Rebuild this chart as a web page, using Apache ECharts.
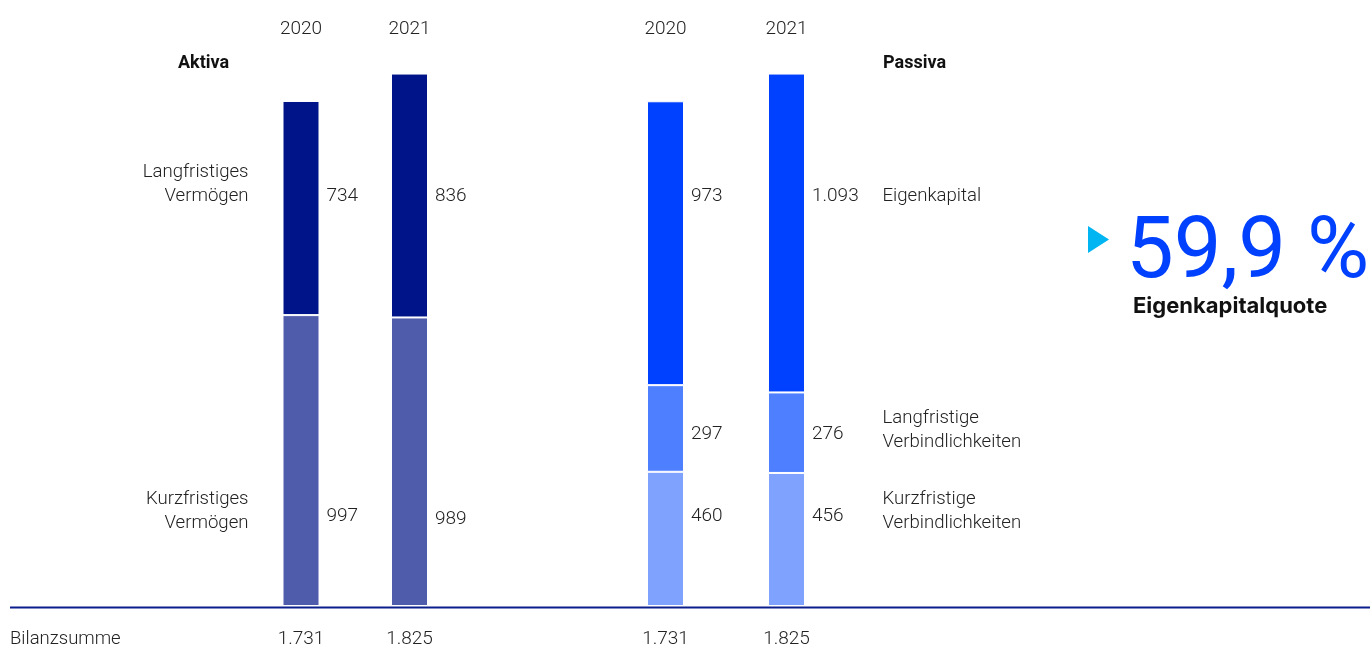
<!DOCTYPE html>
<html>
<head>
<meta charset="utf-8">
<script src="https://cdn.jsdelivr.net/npm/echarts@6/dist/echarts.min.js"></script>
<style>html,body{margin:0;padding:0;background:#fff;}#c{width:1370px;height:646px;}</style>
</head>
<body>
<div id="c"></div>
<script>
// ---- data ----
const categories = ['2020', '2021'];
const kurzfristigesVermoegen = [997, 989];
const langfristigesVermoegen = [734, 836];
const kurzfristigeVerb = [460, 456];
const langfristigeVerb = [297, 276];
const eigenkapital = [973, 1093];
const bilanzsumme = [1731, 1825];
const quoteText = '59,9 %';

// ---- layout (label anchor rows, in axis units) ----
const ROW_TOP = 1405, ROW_MID = 590, ROW_LOW = 308, ROW_LOW_B = 299;
const ROW_TXT_TOP = 1446, ROW_TXT_MID = 603, ROW_TXT_LOW = 325;

const FONT = 'Roboto, "Noto Sans", sans-serif';
const fmt = v => String(v).replace(/\B(?=(\d{3})+(?!\d))/g, '.');

const valLabel = {show: true, position: 'right', distance: 25, fontFamily: FONT, fontSize: 19, fontWeight: 300, color: '#222', formatter: p => fmt(p.value)};
function vItem(cat, row, v) { return {coord: [cat, row], value: v, label: valLabel}; }
function tItem(cat, row, text, side, dist) {
  return {coord: [cat, row], value: 0, label: {show: true, position: side, distance: dist, align: side === 'left' ? 'right' : 'left',
    fontFamily: FONT, fontSize: 18.6, fontWeight: 300, color: '#222', lineHeight: 24, formatter: () => text}};
}
function marks(items) {
  return {symbol: 'circle', symbolSize: 1, itemStyle: {color: 'rgba(0,0,0,0)'}, animation: false, data: items};
}

const barBase = {type: 'bar', barWidth: 37, emphasis: {disabled: true}};

const chart = echarts.init(document.getElementById('c'));
const yAx = {type: 'value', min: 0, max: 1940, show: false};
const bottomAx = (gi) => ({type: 'category', gridIndex: gi, position: 'bottom', data: categories,
  axisLine: {show: false}, axisTick: {show: false},
  axisLabel: {margin: 24, fontFamily: FONT, fontSize: 19, fontWeight: 300, color: '#222', formatter: (v, i) => fmt(bilanzsumme[i])}});
const topAx = (gi) => ({type: 'category', gridIndex: gi, position: 'top', data: categories,
  axisLine: {show: false}, axisTick: {show: false},
  axisLabel: {margin: 1, fontFamily: FONT, fontSize: 19, fontWeight: 300, color: '#222'}});

chart.setOption({
  animation: false,
  grid: [
    {left: 246.75, width: 217, top: 40, height: 566, containLabel: false, outerBoundsMode: 'none'},
    {left: 605, width: 242, top: 40, height: 566, containLabel: false, outerBoundsMode: 'none'}
  ],
  xAxis: [bottomAx(0), topAx(0), bottomAx(1), topAx(1)],
  yAxis: [Object.assign({gridIndex: 0}, yAx), Object.assign({gridIndex: 1}, yAx)],
  series: [
    Object.assign({}, barBase, {name: 'Kurzfristiges Vermögen', stack: 'a', xAxisIndex: 0, yAxisIndex: 0,
      data: kurzfristigesVermoegen, itemStyle: {color: '#4f5bab', borderColor: '#fff', borderWidth: 1},
      markPoint: marks([vItem('2020', ROW_LOW, kurzfristigesVermoegen[0]), vItem('2021', ROW_LOW_B, kurzfristigesVermoegen[1]),
        tItem('2020', ROW_TXT_LOW, 'Kurzfristiges\nVermögen', 'left', 52)])}),
    Object.assign({}, barBase, {name: 'Langfristiges Vermögen', stack: 'a', xAxisIndex: 0, yAxisIndex: 0,
      data: langfristigesVermoegen, itemStyle: {color: '#001489', borderColor: '#fff', borderWidth: 1},
      markPoint: marks([vItem('2020', ROW_TOP, langfristigesVermoegen[0]), vItem('2021', ROW_TOP, langfristigesVermoegen[1]),
        tItem('2020', ROW_TXT_TOP, 'Langfristiges\nVermögen', 'left', 52)])}),
    Object.assign({}, barBase, {name: 'Kurzfristige Verbindlichkeiten', stack: 'p', xAxisIndex: 2, yAxisIndex: 1,
      data: kurzfristigeVerb, itemStyle: {color: '#80a2ff', borderColor: '#fff', borderWidth: 1},
      markPoint: marks([vItem('2020', ROW_LOW, kurzfristigeVerb[0]), vItem('2021', ROW_LOW, kurzfristigeVerb[1]),
        tItem('2021', ROW_TXT_LOW, 'Kurzfristige\nVerbindlichkeiten', 'right', 95.5)])}),
    Object.assign({}, barBase, {name: 'Langfristige Verbindlichkeiten', stack: 'p', xAxisIndex: 2, yAxisIndex: 1,
      data: langfristigeVerb, itemStyle: {color: '#4d7fff', borderColor: '#fff', borderWidth: 1},
      markPoint: marks([vItem('2020', ROW_MID, langfristigeVerb[0]), vItem('2021', ROW_MID, langfristigeVerb[1]),
        tItem('2021', ROW_TXT_MID, 'Langfristige\nVerbindlichkeiten', 'right', 95.5)])}),
    Object.assign({}, barBase, {name: 'Eigenkapital', stack: 'p', xAxisIndex: 2, yAxisIndex: 1,
      data: eigenkapital, itemStyle: {color: '#0041ff', borderColor: '#fff', borderWidth: 1},
      markPoint: marks([vItem('2020', ROW_TOP, eigenkapital[0]), vItem('2021', ROW_TOP, eigenkapital[1]),
        tItem('2021', ROW_TOP, 'Eigenkapital', 'right', 95.5)])})
  ],
  graphic: [
    {type: 'line', shape: {x1: 10, y1: 607.5, x2: 1370, y2: 607.5}, style: {stroke: '#0a1e8c', lineWidth: 2}, z: 10},
    {type: 'text', x: 10, y: 639, style: {text: 'Bilanzsumme', font: '300 18.5px ' + FONT, fill: '#222', textVerticalAlign: 'middle'}},
    {type: 'text', x: 178, y: 63, style: {text: 'Aktiva', font: 'bold 18px ' + FONT, fill: '#111', textVerticalAlign: 'middle'}},
    {type: 'text', x: 883, y: 63, style: {text: 'Passiva', font: 'bold 18px ' + FONT, fill: '#111', textVerticalAlign: 'middle'}},
    {type: 'polygon', shape: {points: [[1088, 226], [1109, 239.5], [1088, 253]]}, style: {fill: '#00b5f1'}},
    {type: 'text', x: 1126, y: 256, style: {text: quoteText, font: '400 85px ' + FONT, fill: '#0041ff', textVerticalAlign: 'middle'}},
    {type: 'text', x: 1133, y: 306, style: {text: 'Eigenkapitalquote', font: 'bold 22px Inter, ' + FONT, fill: '#111', textVerticalAlign: 'middle'}}
  ]
});
</script>
</body>
</html>
